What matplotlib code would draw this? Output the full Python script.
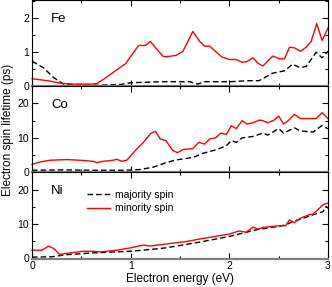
import matplotlib
matplotlib.use("Agg")
import matplotlib.pyplot as plt
from matplotlib.ticker import MultipleLocator

plt.rcParams['font.family'] = ['Liberation Sans', 'DejaVu Sans']

# ---- data ----
fe_min_E = [0.0, 0.18, 0.28, 0.4, 0.5, 0.6, 0.66, 0.75, 0.85, 0.95, 1.0, 1.08, 1.15, 1.2, 1.25, 1.33,
            1.36, 1.46, 1.53, 1.63, 1.70, 1.75, 1.80, 1.92, 2.0, 2.07, 2.13, 2.18, 2.24, 2.29, 2.34,
            2.44, 2.51, 2.56, 2.61, 2.66, 2.72, 2.78, 2.83, 2.885, 2.94, 3.0]
fe_min_v = [0.22, 0.15, 0.09, 0.06, 0.06, 0.06, 0.08, 0.25, 0.46, 0.66, 0.87, 1.19, 1.19, 1.31, 1.13, 0.87,
            0.86, 0.9, 1.02, 1.6, 1.31, 1.17, 1.17, 0.86, 0.78, 0.78, 0.7, 0.72, 0.83, 0.67, 0.59,
            0.88, 0.80, 0.80, 1.14, 1.12, 1.02, 1.14, 1.31, 1.83, 1.34, 1.70]
fe_maj_E = [0.0, 0.115, 0.22, 0.32, 0.5, 0.7, 0.9, 1.0, 1.3, 1.5, 1.6, 1.68, 1.75, 2.0, 2.2, 2.3,
            2.44, 2.56, 2.64, 2.72, 2.78, 2.88, 2.94, 3.0]
fe_maj_v = [0.73, 0.54, 0.25, 0.06, 0.03, 0.03, 0.05, 0.1, 0.13, 0.13, 0.13, 0.06, 0.13, 0.13, 0.16, 0.16,
            0.38, 0.45, 0.64, 0.54, 0.58, 0.99, 0.83, 1.02]

co_min_E = [0.0, 0.08, 0.18, 0.35, 0.49, 0.62, 0.66, 0.72, 0.82, 0.86, 0.91, 0.96, 1.0, 1.06, 1.13, 1.2,
            1.25, 1.3, 1.357, 1.425, 1.475, 1.53, 1.63, 1.69, 1.75, 1.80, 1.86, 1.915, 1.97, 2.02,
            2.07, 2.13, 2.18, 2.24, 2.3, 2.33, 2.39, 2.45, 2.5, 2.55, 2.6, 2.66, 2.72, 2.78, 2.88,
            2.94, 3.0]
co_min_v = [2.3, 3.0, 3.5, 3.7, 3.5, 3.2, 2.8, 3.2, 3.5, 3.8, 3.2, 3.5, 4.8, 6.7, 8.7, 11.2,
            11.9, 9.7, 9.2, 6.4, 5.7, 6.6, 6.9, 8.7, 8.2, 9.7, 10.0, 11.4, 11.0, 13.5,
            12.7, 15.0, 14.0, 14.4, 15.1, 15.1, 14.4, 15.1, 16.3, 14.0, 15.1, 16.8, 15.6, 15.6, 15.6,
            17.3, 15.6]
co_maj_E = [0.0, 0.3, 0.6, 0.95, 1.09, 1.23, 1.357, 1.46, 1.63, 1.73, 1.86, 1.97, 2.02, 2.07, 2.13,
            2.24, 2.34, 2.39, 2.5, 2.55, 2.66, 2.72, 2.85, 2.94, 3.0]
co_maj_v = [0.6, 0.7, 0.6, 0.6, 0.8, 1.5, 2.8, 3.6, 4.3, 5.5, 6.5, 7.7, 9.2, 8.7, 10.0,
            10.4, 11.4, 10.8, 12.7, 11.4, 12.9, 12.0, 11.7, 13.6, 12.6]

ni_min_E = [0.0, 0.1, 0.17, 0.22, 0.28, 0.35, 0.52, 0.62, 0.69, 0.86, 1.0, 1.13, 1.2, 1.27, 1.357,
            1.56, 1.69, 2.0, 2.1, 2.17, 2.24, 2.29, 2.34, 2.5, 2.57, 2.61, 2.66, 2.72, 2.81, 2.85,
            2.95, 3.0]
ni_min_v = [2.4, 2.4, 3.6, 2.9, 1.2, 1.5, 2.1, 2.1, 1.9, 2.4, 3.1, 3.9, 3.6, 3.9, 4.2,
            4.9, 5.6, 7.1, 8.0, 7.6, 9.1, 8.5, 9.0, 9.5, 9.5, 11.2, 10.4, 11.7, 12.7, 12.9,
            15.6, 16.1]
ni_maj_E = [0.0, 0.2, 0.35, 0.6, 1.0, 1.3, 1.357, 1.69, 2.0, 2.17, 2.27, 2.47, 2.57, 2.64, 2.72,
            2.85, 2.95, 2.98, 3.0]
ni_maj_v = [0.4, 0.5, 1.1, 1.6, 2.1, 2.9, 3.1, 4.7, 6.4, 7.6, 8.3, 9.2, 9.7, 10.7, 11.4,
            12.7, 13.6, 15.1, 14.6]

panels = [
    ("Fe", fe_maj_E, fe_maj_v, fe_min_E, fe_min_v, 2.52, [0, 1, 2], 0.5),
    ("Co", co_maj_E, co_maj_v, co_min_E, co_min_v, 25, [0, 10, 20], 5),
    ("Ni", ni_maj_E, ni_maj_v, ni_min_E, ni_min_v, 25, [0, 10, 20], 5),
]
xticks = [0, 1, 2, 3]

fig = plt.figure(figsize=(3.32, 2.87), dpi=100)
left, right = 32 / 332, 328 / 332
bottom_px = 258.5
h_px = bottom_px / 3
for i, (name, mE, mv, nE, nv, ymax, yt, ymin_step) in enumerate(panels):
    top_px = i * h_px
    ax = fig.add_axes([left, 1 - (top_px + h_px) / 287, right - left, h_px / 287])
    ax.plot(mE, mv, color='black', lw=1.0, ls=(0, (4, 2.2)), label='majority spin', clip_on=False)
    ax.plot(nE, nv, color='#ff0000', lw=1.0, label='minority spin', clip_on=False)
    ax.set_xlim(0, 3)
    ax.set_ylim(0, ymax)
    ax.set_yticks(yt)
    ax.yaxis.set_minor_locator(MultipleLocator(ymin_step))
    ax.xaxis.set_minor_locator(MultipleLocator(0.5))
    ax.set_xticks(xticks)
    ax.tick_params(which='both', direction='in', top=True, right=True, labelsize=7.5, pad=2)
    ax.tick_params(which='major', length=4, width=0.8)
    ax.tick_params(which='minor', length=2.5, width=0.8)
    for s in ['left', 'right', 'top']:
        ax.spines[s].set_linewidth(0.8)
    ax.spines['bottom'].set_color('#808080')
    ax.spines['bottom'].set_linewidth(1.6)
    if i < 2:
        ax.tick_params(labelbottom=False)
    else:
        ax.set_xticklabels([str(x) for x in xticks])
        ax.set_xlabel('Electron energy (eV)', fontsize=8.5, labelpad=1)
    ax.text(0.065, 0.78, name, transform=ax.transAxes, fontsize=9.5, va='center', ha='left')
    if i == 2:
        ax.legend(loc='upper left', bbox_to_anchor=(0.185, 0.80), frameon=False, fontsize=7.5,
                  handlelength=2.2, handletextpad=0.5, labelspacing=0.35, borderaxespad=0,
                  borderpad=0)

fig.text(0.025, 1 - 130 / 287, 'Electron spin lifetime (ps)', rotation=90, va='center', ha='center',
         fontsize=8.5)

fig.savefig('out.png', dpi=100)
